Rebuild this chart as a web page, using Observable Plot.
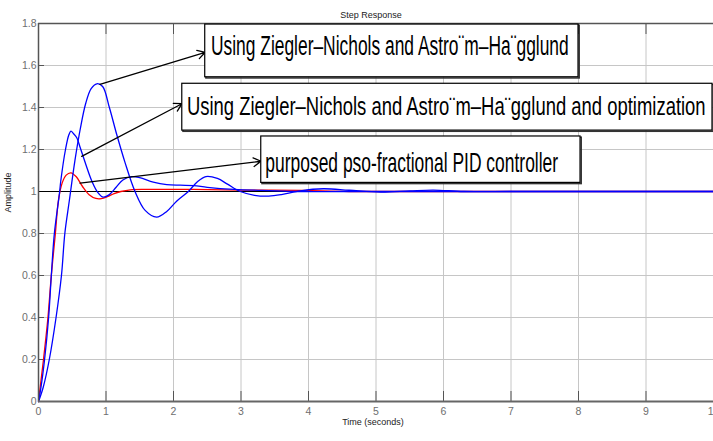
<!DOCTYPE html>
<html><head><meta charset="utf-8">
<script src="https://cdn.jsdelivr.net/npm/d3@7"></script>
<script src="https://cdn.jsdelivr.net/npm/@observablehq/plot@0.6"></script>
<style>body{margin:0;background:#fff}</style>
</head><body><div id="chart"></div>
<script>
// ---- tick values and labels ----
const xTicks = [0, 1, 2, 3, 4, 5, 6, 7, 8, 9, 10];
const xTickLabels = ["0", "1", "2", "3", "4", "5", "6", "7", "8", "9", "10"];
const yTicks = [0, 0.2, 0.4, 0.6, 0.8, 1, 1.2, 1.4, 1.6, 1.8];
const yTickLabels = ["0", "0.2", "0.4", "0.6", "0.8", "1", "1.2", "1.4", "1.6", "1.8"];

// ---- series: purposed pso-fractional PID (red) ----
const psoT = [0, 0.025, 0.074, 0.14, 0.19, 0.25, 0.295, 0.35, 0.41, 0.48, 0.56, 0.65, 0.75, 0.85, 0.93, 1.02, 1.12, 1.22, 1.36, 1.6, 2.3, 3.0, 3.9, 4.6, 6, 8, 10];
const psoY = [0, 0.068, 0.2, 0.4, 0.6, 0.8, 0.957, 1.04, 1.078, 1.089, 1.07, 1.025, 0.985, 0.967, 0.966, 0.975, 0.99, 1.0, 1.008, 1.01, 1.01, 1.007, 1.005, 1.0, 1.0, 1.0, 1.0];

// ---- series: Ziegler–Nichols and Åström–Hägglund and optimization (blue) ----
const optT = [0, 0.037, 0.09, 0.15, 0.19, 0.235, 0.31, 0.33, 0.4, 0.45, 0.48, 0.52, 0.567, 0.616, 0.7, 0.79, 0.88, 0.96, 1.05, 1.15, 1.25, 1.38, 1.5, 1.7, 1.9, 2.1, 2.3, 2.5, 2.9, 3.3, 3.8, 4.5, 6, 8, 10];
const optY = [0, 0.068, 0.2, 0.4, 0.6, 0.8, 0.99, 1.05, 1.2, 1.27, 1.287, 1.275, 1.256, 1.211, 1.13, 1.05, 0.995, 0.973, 0.985, 1.02, 1.055, 1.071, 1.066, 1.045, 1.033, 1.03, 1.028, 1.02, 1.01, 1.005, 1.0, 1.0, 1.0, 1.0, 1.0];

// ---- series: Ziegler–Nichols and Åström–Hägglund (blue) ----
const znT = [0, 0.07, 0.16, 0.26, 0.34, 0.39, 0.457, 0.54, 0.62, 0.7, 0.78, 0.864, 0.95, 1.05, 1.16, 1.28, 1.43, 1.58, 1.75, 1.9, 2.05, 2.22, 2.35, 2.48, 2.65, 2.8, 2.99, 3.2, 3.41, 3.6, 3.88, 4.22, 4.6, 5.07, 5.5, 5.85, 6.3, 7, 8, 10];
const znY = [0, 0.068, 0.2, 0.4, 0.6, 0.8, 0.957, 1.148, 1.3, 1.42, 1.49, 1.513, 1.5, 1.4, 1.27, 1.14, 1.0, 0.91, 0.878, 0.905, 0.955, 1.0, 1.045, 1.071, 1.062, 1.035, 1.0, 0.982, 0.978, 0.985, 1.003, 1.013, 1.006, 0.997, 1.003, 1.007, 1.0, 1.0, 1.0, 1.0];

const steadyState = [1];

// ---- annotations (data units) ----
const annoLabels = [
  "Using Ziegler\u2013Nichols and Astro\u00A8m\u2013Ha\u00A8gglund",
  "Using Ziegler\u2013Nichols and Astro\u00A8m\u2013Ha\u00A8gglund and optimization",
  "purposed pso-fractional PID controller"
];
const boxX1 = [2.47, 2.13, 3.30];
const boxX2 = [8.0, 9.985, 8.03];
const boxY1 = [1.544, 1.290, 1.041];
const boxY2 = [1.795, 1.513, 1.262];
const labelX = [2.555, 2.199, 3.36];
const labelY = [1.648, 1.362, 1.095];
const arrowX1 = [0.91, 0.64, 0.616];
const arrowY1 = [1.51, 1.167, 1.04];
const arrowX2 = [2.47, 2.125, 3.297];
const arrowY2 = [1.663, 1.418, 1.144];

// ---- style constants ----
const labelFontSizes = [28, 26, 27];
const labelWidths = [358, 519, 293];
const tickFont = "'Liberation Sans Narrow', 'Liberation Sans', Arial, sans-serif";

const zip = (T, Y) => T.map((t, i) => ({t, y: Y[i]}));
const pso = zip(psoT, psoY), opt = zip(optT, optY), zn = zip(znT, znY);
const annos = annoLabels.map((label, i) => ({
  label, bx1: boxX1[i], bx2: boxX2[i], by1: boxY1[i], by2: boxY2[i],
  lx: labelX[i], ly: labelY[i], ax1: arrowX1[i], ay1: arrowY1[i], ax2: arrowX2[i], ay2: arrowY2[i],
  fs: labelFontSizes[i]
}));

const fmtX = d => xTickLabels[xTicks.indexOf(d)];
const fmtY = d => yTickLabels[yTicks.indexOf(d)];

const chart = Plot.plot({
  width: 713, height: 441,
  marginLeft: 38, marginRight: 0, marginTop: 23, marginBottom: 40,
  x: {domain: [0, 10], label: null},
  y: {domain: [0, 1.8], label: null},
  style: {fontFamily: "'Liberation Sans', Arial, sans-serif", background: "white", overflow: "visible"},
  marks: [
    Plot.gridX(xTicks, {stroke: "#c6c6c6", strokeOpacity: 1, strokeWidth: 1}),
    Plot.gridY(yTicks, {stroke: "#c6c6c6", strokeOpacity: 1, strokeWidth: 1}),
    // tick labels
    Plot.axisY(yTicks, {tickSize: 0, tickPadding: 2, tickFormat: fmtY, fill: "#6e6e6e", fontSize: 10.5, fontFamily: tickFont, label: null}),
    Plot.axisX(xTicks, {anchor: "bottom", tickSize: 0, tickPadding: 6, tickFormat: fmtX, fill: "#6e6e6e", fontSize: 10.5, fontFamily: tickFont, label: null}),
    // inward tick marks
    Plot.axisY(yTicks, {tickSize: 6, dx: 6, tickFormat: () => "", stroke: "#555", label: null}),
    Plot.axisX(xTicks, {anchor: "bottom", tickSize: 10, dy: -10, tickFormat: () => "", stroke: "#555", label: null}),
    Plot.axisX(xTicks, {anchor: "top", tickSize: 10, dy: 10, tickFormat: () => "", stroke: "#555", label: null}),
    // steady-state reference
    Plot.ruleY(steadyState, {stroke: "black", strokeWidth: 1.2}),
    // responses
    Plot.line(pso, {x: "t", y: "y", stroke: "#ff0000", strokeWidth: 1.3, curve: "catmull-rom"}),
    Plot.line(opt, {x: "t", y: "y", stroke: "#0000ff", strokeWidth: 1.3, curve: "catmull-rom"}),
    Plot.line(zn, {x: "t", y: "y", stroke: "#0000ff", strokeWidth: 1.3, curve: "catmull-rom"}),
    // frame
    Plot.ruleX([0], {stroke: "#555", strokeWidth: 1.5}),
    Plot.ruleY([0], {stroke: "#666", strokeWidth: 2}),
    Plot.ruleY([1.8], {stroke: "#555", strokeWidth: 1.5}),
    // annotations
    Plot.arrow(annos, {x1: "ax1", y1: "ay1", x2: "ax2", y2: "ay2", stroke: "black", strokeWidth: 1.3, headLength: 10}),
    Plot.rect(annos, {x1: "bx1", x2: "bx2", y1: "by1", y2: "by2", fill: "none", stroke: "#333", strokeWidth: 1.5, dx: 1.2, dy: 1.2}),
    Plot.rect(annos, {x1: "bx1", x2: "bx2", y1: "by1", y2: "by2", fill: "white", stroke: "black", strokeWidth: 1.2}),
    Plot.text(annos, {x: "lx", y: "ly", text: "label", fontSize: "fs", textAnchor: "start", lineAnchor: "bottom", fill: "black"}),
    // titles
    Plot.text(["Step Response"], {frameAnchor: "top", dy: -12, dx: -5, fontSize: 9, fill: "#222", fontFamily: tickFont}),
    Plot.text(["Time (seconds)"], {frameAnchor: "bottom", dy: 23, dx: -3, fontSize: 9, fill: "#222", fontFamily: tickFont}),
    Plot.text(["Amplitude"], {frameAnchor: "left", dx: -30, dy: 0, rotate: -90, fontSize: 9, fill: "#222", fontFamily: tickFont})
  ]
});

document.getElementById("chart").appendChild(chart);

// compress annotation texts horizontally (condensed look), anchored at their left edge
chart.querySelectorAll("text").forEach(el => {
  const i = annoLabels.indexOf(el.textContent);
  if (i < 0) return;
  const natural = el.getComputedTextLength();
  if (!natural) return;
  const s = labelWidths[i] / natural;
  const tr = el.getAttribute("transform");
  if (tr) {
    el.setAttribute("transform", tr + ` scale(${s},1)`);
  } else {
    const x = +el.getAttribute("x") || 0, y = +el.getAttribute("y") || 0;
    el.setAttribute("x", 0); el.setAttribute("y", 0);
    el.setAttribute("transform", `translate(${x},${y}) scale(${s},1)`);
  }
});
</script></body></html>
